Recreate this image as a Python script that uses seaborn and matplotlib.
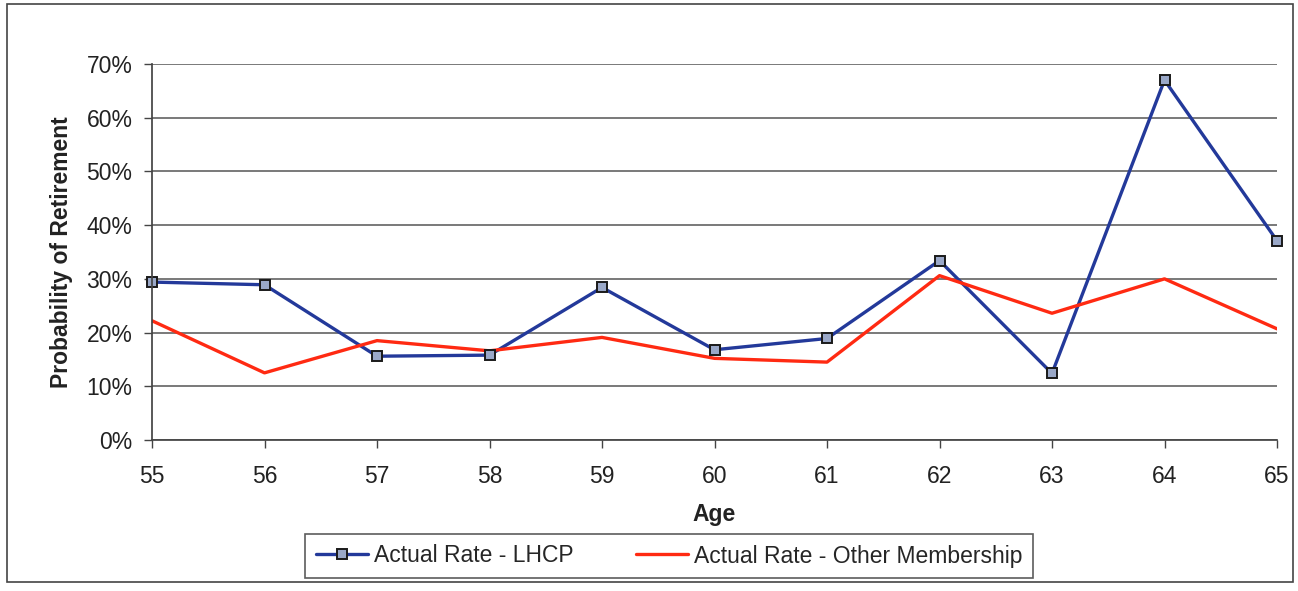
import matplotlib
matplotlib.use("Agg")
import matplotlib.pyplot as plt
import matplotlib.patches as mpatches
from matplotlib.ticker import PercentFormatter
import seaborn as sns
import pandas as pd

ages = [55, 56, 57, 58, 59, 60, 61, 62, 63, 64, 65]
lhcp_rate = [29.4, 28.9, 15.6, 15.8, 28.4, 16.8, 18.9, 33.4, 12.4, 67.0, 37.1]
other_rate = [22.2, 12.5, 18.5, 16.6, 19.1, 15.2, 14.5, 30.6, 23.6, 30.0, 20.7]
series_names = ["Actual Rate - LHCP", "Actual Rate - Other Membership"]

sns.set_theme(style="white")
plt.rcParams["font.family"] = ["Liberation Sans", "DejaVu Sans"]

df = pd.DataFrame({
    "Age": ages * 2,
    "Rate": lhcp_rate + other_rate,
    "Series": [series_names[0]] * len(ages) + [series_names[1]] * len(ages),
})

W, H = 1298, 591
fig = plt.figure(figsize=(W / 100, H / 100), dpi=100)
ax = fig.add_axes([152 / W, 1 - 440 / H, (1277 - 152) / W, (440 - 64) / H])

blue, red = "#23399A", "#FF2A12"
palette = {series_names[0]: blue, series_names[1]: red}
sns.lineplot(data=df, x="Age", y="Rate", hue="Series", palette=palette,
             linewidth=2.4, ax=ax, legend=False)
marker_style = dict(marker="s", markersize=7, markerfacecolor="#9AA8C8",
                    markeredgecolor="#1A1A1A", markeredgewidth=1.4)
ax.plot(ages, lhcp_rate, linestyle="none", clip_on=False, **marker_style)

ax.set_xlim(55, 65)
ax.set_ylim(0, 70)
ax.set_xticks(ages)
ax.set_yticks(range(0, 71, 10))
ax.yaxis.set_major_formatter(PercentFormatter(decimals=0))
ax.grid(axis="y", color="#555555", linewidth=1.1)
ax.set_axisbelow(True)
for side in ["top", "right"]:
    ax.spines[side].set_visible(False)
ax.spines["left"].set_color("#444444")
ax.spines["bottom"].set_color("#444444")
ax.tick_params(axis="both", which="both", direction="out", length=6, width=1,
               color="#444444", labelsize=16.5, labelcolor="#222222",
               left=True, bottom=True)
ax.tick_params(axis="x", pad=12)
ax.tick_params(axis="y", pad=8)
ax.set_xlabel("Age", fontsize=16.5, fontweight="bold", labelpad=11, color="#222222")
ax.set_ylabel("Probability of Retirement", fontsize=16.5, fontweight="bold",
              labelpad=9.5, color="#222222")

handles = [
    plt.Line2D([], [], color=blue, linewidth=2.4, **marker_style),
    plt.Line2D([], [], color=red, linewidth=2.4),
]
leg = fig.legend(handles, series_names, loc="center",
                 bbox_to_anchor=(669 / W, 1 - 556 / H),
                 ncol=2, fontsize=16.5, frameon=True, fancybox=False, edgecolor="#333333",
                 handlelength=2.3, handletextpad=0.25, columnspacing=2.7,
                 borderpad=0.45, borderaxespad=0)
leg.get_frame().set_linewidth(1.2)

# outer chart-area border
fig.patches.append(mpatches.Rectangle((7 / W, 1 - 582 / H), (1293 - 7) / W, (582 - 4) / H,
                                      transform=fig.transFigure, fill=False,
                                      edgecolor="#444444", linewidth=1.2))

fig.savefig("out.png", dpi=100)
